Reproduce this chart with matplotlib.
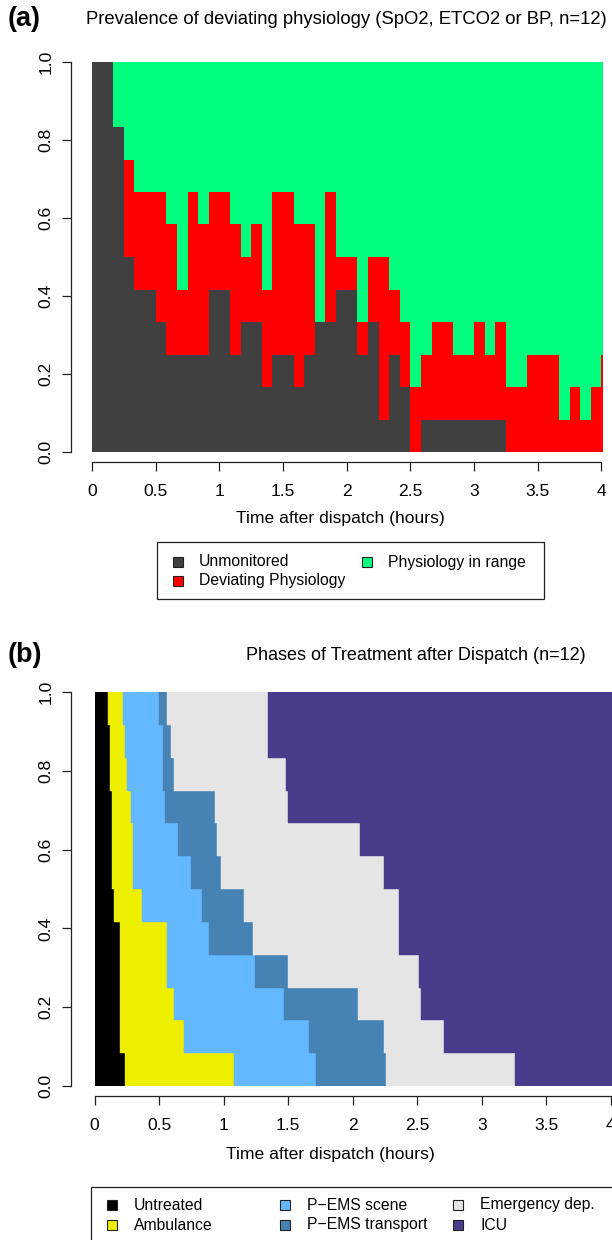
import numpy as np
import matplotlib
matplotlib.use("Agg")
import matplotlib.pyplot as plt
from matplotlib.patches import Rectangle

plt.rcParams['font.family'] = ['Liberation Sans', 'DejaVu Sans']

# ---------------- data: panel (a) ----------------
# counts (of n=12) per 5-minute bin
n_patients = 12
bin_minutes = 5
unmonitored = [12, 12, 10, 6, 5, 5, 4, 3, 3, 3, 3, 5, 5, 3, 4, 4, 2, 3, 3, 2, 3, 4, 4, 5, 5,
               3, 4, 1, 3, 2, 0, 1, 1, 1, 1, 1, 1, 1, 1, 0, 0, 0, 0, 0, 0, 0, 0, 0, 0]
not_in_range = [12, 12, 10, 9, 8, 8, 8, 7, 5, 8, 7, 8, 8, 7, 6, 7, 5, 8, 8, 7, 7, 4, 8, 6, 6,
                4, 6, 6, 5, 4, 2, 3, 4, 4, 3, 3, 4, 3, 4, 2, 2, 3, 3, 3, 1, 2, 1, 2, 3]
legend_a_labels = ["Unmonitored", "Deviating Physiology", "Physiology in range"]
colors_a = ["#404040", "#FF0000", "#00FF7F"]

# ---------------- data: panel (b) ----------------
# transition times (hours), rows from bottom to top
end_untreated = [0.234, 0.200, 0.200, 0.200, 0.200, 0.154, 0.136, 0.136, 0.136, 0.118, 0.118, 0.102]
end_ambulance = [1.078, 0.696, 0.613, 0.564, 0.564, 0.368, 0.301, 0.301, 0.283, 0.252, 0.234, 0.218]
end_scene = [1.713, 1.664, 1.466, 1.246, 0.884, 0.833, 0.750, 0.647, 0.549, 0.531, 0.531, 0.500]
end_transport = [2.260, 2.245, 2.041, 1.496, 1.225, 1.161, 0.980, 0.949, 0.931, 0.613, 0.595, 0.564]
end_ed = [3.255, 2.707, 2.527, 2.511, 2.361, 2.361, 2.245, 2.059, 1.496, 1.481, 1.344, 1.344]
phase_labels = ["Untreated", "Ambulance", "P\u2212EMS scene", "P\u2212EMS transport",
                "Emergency dep.", "ICU"]
colors_b = ["#000000", "#EEEE00", "#63B8FF", "#4682B4", "#E5E5E5", "#483D8B"]

xticks = [0, 0.5, 1, 1.5, 2, 2.5, 3, 3.5, 4]
xticklabels = ["0", "0.5", "1", "1.5", "2", "2.5", "3", "3.5", "4"]
yticks = [0, 0.2, 0.4, 0.6, 0.8, 1.0]
yticklabels = ["0.0", "0.2", "0.4", "0.6", "0.8", "1.0"]

title_a = "Prevalence of deviating physiology (SpO2, ETCO2 or BP, n=12)"
title_b = "Phases of Treatment after Dispatch (n=12)"
xlabel = "Time after dispatch (hours)"

# ---------------- figure ----------------
W, H = 612, 1240
fig = plt.figure(figsize=(W / 100, H / 100), dpi=100)
FS = 12.6
LFS = 11.3


def px_axes(left, top, right, bottom):
    return fig.add_axes([left / W, 1 - bottom / H, (right - left) / W, (bottom - top) / H])


def style_axes(ax, left_off_px):
    for s in ["top", "right"]:
        ax.spines[s].set_visible(False)
    ax.spines["left"].set_position(("outward", left_off_px * 0.72))
    ax.spines["bottom"].set_position(("outward", 10 * 0.72))
    ax.spines["left"].set_bounds(0, 1)
    ax.spines["bottom"].set_bounds(0, 4)
    for s in ["left", "bottom"]:
        ax.spines[s].set_linewidth(0.9)
        ax.spines[s].set_color("#222222")
    ax.set_xticks(xticks)
    ax.set_xticklabels(xticklabels)
    ax.set_yticks(yticks)
    ax.set_yticklabels(yticklabels)
    ax.tick_params(direction="out", length=9 * 0.72, width=0.9, color="#222222",
                   labelsize=FS)
    ax.tick_params(axis="x", pad=9.5)
    ax.tick_params(axis="y", pad=6)
    for lbl in ax.get_yticklabels():
        lbl.set_rotation(90)
        lbl.set_va("center")


# ---------------- panel (a) ----------------
ax_a = px_axes(92, 62, 602.5, 452)
un = np.array(unmonitored) / n_patients
tot = np.array(not_in_range) / n_patients
edges = np.arange(len(un) + 1) * bin_minutes / 60.0
ax_a.stairs(un, edges, baseline=0, fill=True, color=colors_a[0], lw=0)
ax_a.stairs(tot, edges, baseline=un, fill=True, color=colors_a[1], lw=0)
ax_a.stairs(np.ones_like(tot), edges, baseline=tot, fill=True, color=colors_a[2], lw=0)
ax_a.set_xlim(0, 4.0086)
ax_a.set_ylim(0, 1)
style_axes(ax_a, 21)

fig.text(8 / W, 1 - 19 / H, "(a)", fontsize=19.5, fontweight="bold", va="center", ha="left")
fig.text(346 / W, 1 - 20 / H, title_a, fontsize=13.3, ha="center", va="center")
fig.text(340 / W, 1 - 518 / H, xlabel, fontsize=FS, ha="center", va="center")

# legend (a)
fig.add_artist(Rectangle((157 / W, 1 - 599 / H), (544 - 157) / W, (599 - 542) / H,
                         transform=fig.transFigure, fill=False, lw=0.9, ec="#222222"))
leg_a_pos = [(173, 562), (173, 581), (362, 562)]
for (x, y), lab, c in zip(leg_a_pos, legend_a_labels, colors_a):
    fig.add_artist(Rectangle((x / W, 1 - (y + 5) / H), 10 / W, 10 / H,
                             transform=fig.transFigure, fc=c, ec="#222222", lw=0.8))
    fig.text((x + 26) / W, 1 - y / H, lab, fontsize=LFS, ha="left", va="center")

# ---------------- panel (b) ----------------
# plot region continues past the right edge of the picture (cropped)
px_per_hour_b = 129.1
xmax_b = 5.0
ax_b = px_axes(94.5, 692, 94.5 + xmax_b * px_per_hour_b, 1086)
bounds = [np.zeros(n_patients), np.array(end_untreated), np.array(end_ambulance),
          np.array(end_scene), np.array(end_transport), np.array(end_ed),
          np.full(n_patients, xmax_b + 0.1)]
rows = (np.arange(n_patients) + 0.5) / n_patients
for k in range(6):
    ax_b.barh(rows, bounds[k + 1] - bounds[k], left=bounds[k], height=1 / n_patients,
              color=colors_b[k], ec=colors_b[k], lw=0.3)
ax_b.set_xlim(0, xmax_b)
ax_b.set_ylim(0, 1)
style_axes(ax_b, 23.5)

fig.text(8 / W, 1 - 655 / H, "(b)", fontsize=19.5, fontweight="bold", va="center", ha="left")
fig.text(416 / W, 1 - 656 / H, title_b, fontsize=12.95, ha="center", va="center")
fig.text(330 / W, 1 - 1155 / H, xlabel, fontsize=FS, ha="center", va="center")

# legend (b)
fig.add_artist(Rectangle((91 / W, 1 - 1265 / H), (640 - 91) / W, (1265 - 1187) / H,
                         transform=fig.transFigure, fill=False, lw=0.9, ec="#222222"))
leg_b_cols = [107, 280, 453]
leg_b_rows = [1205, 1225]
for k, (lab, c) in enumerate(zip(phase_labels, colors_b)):
    x = leg_b_cols[k // 2]
    y = leg_b_rows[k % 2]
    fig.add_artist(Rectangle((x / W, 1 - (y + 5) / H), 10 / W, 10 / H,
                             transform=fig.transFigure, fc=c, ec="#222222", lw=0.8))
    fig.text((x + 27) / W, 1 - y / H, lab, fontsize=LFS, ha="left", va="center")

fig.savefig("out.png", dpi=100)
